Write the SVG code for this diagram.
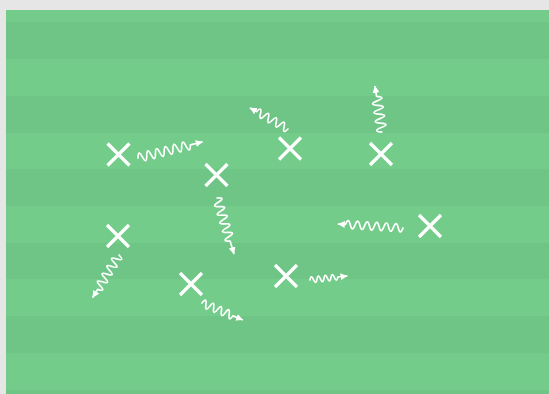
<svg xmlns="http://www.w3.org/2000/svg" width="549" height="394" viewBox="0 0 549 394">
<style>
.light{fill:#74cc8a}
.dark{fill:#6fc585}
.x{stroke:#ffffff;stroke-width:3.3;fill:none}
.w{stroke:#ffffff;stroke-width:1.7;fill:none;stroke-linecap:round;stroke-linejoin:round;marker-end:url(#ah)}
</style>
<defs>
<marker id="ah" viewBox="0 0 10 10" refX="9" refY="5" markerWidth="7" markerHeight="7" markerUnits="userSpaceOnUse" orient="auto">
<path d="M0,0 L10,5 L0,10 z" fill="#ffffff"/>
</marker>
<path id="xm" d="M-11,-11 L11,11 M-11,11 L11,-11"/>
</defs>
<rect width="549" height="394" fill="#e6e6e6"/>
<g id="field">
<rect class="light" x="6" y="10" width="543" height="384"/>
<rect class="dark" x="6" y="22" width="543" height="37"/>
<rect class="dark" x="6" y="96" width="543" height="37"/>
<rect class="dark" x="6" y="169" width="543" height="37"/>
<rect class="dark" x="6" y="243" width="543" height="36"/>
<rect class="dark" x="6" y="316" width="543" height="37"/>
<rect class="dark" x="6" y="390" width="543" height="4"/>
</g>
<g id="player1"><use href="#xm" class="x" transform="translate(118.5,154.5)"/></g>
<g id="player2"><use href="#xm" class="x" transform="translate(216.5,175)"/></g>
<g id="player3"><use href="#xm" class="x" transform="translate(290,148.5)"/></g>
<g id="player4"><use href="#xm" class="x" transform="translate(381,154)"/></g>
<g id="player5"><use href="#xm" class="x" transform="translate(430,226)"/></g>
<g id="player6"><use href="#xm" class="x" transform="translate(118,236)"/></g>
<g id="player7"><use href="#xm" class="x" transform="translate(191,284)"/></g>
<g id="player8"><use href="#xm" class="x" transform="translate(286,276)"/></g>
<g id="connectors">
<path class="w" transform="translate(138,158) rotate(-14)" d="M0,0 q2.25,-9 4.5,0 t4.5,0 t4.5,0 t4.5,0 t4.5,0 t4.5,0 t4.5,0 t4.5,0 t4.5,0 t4.5,0 t4.5,0 t4.5,0 l12,0"/>
<path class="w" transform="translate(288,129) rotate(-151)" d="M0,0 q2.25,-8 4.5,0 t4.5,0 t4.5,0 t4.5,0 t4.5,0 t4.5,0 t4.5,0 t4.5,0 l7,0"/>
<path class="w" transform="translate(382,132) rotate(-98.7)" d="M0,0 q2.25,-10 4.5,0 t4.5,0 t4.5,0 t4.5,0 t4.5,0 t4.5,0 t4.5,0 t4.5,0 l10,0"/>
<path class="w" transform="translate(217,198) rotate(73.1)" d="M0,0 q2.25,-9 4.5,0 t4.5,0 t4.5,0 t4.5,0 t4.5,0 t4.5,0 t4.5,0 t4.5,0 t4.5,0 t4.5,0 l13,0"/>
<path class="w" transform="translate(403,228) rotate(183.5)" d="M0,0 q2.4,-8 4.8,0 t4.8,0 t4.8,0 t4.8,0 t4.8,0 t4.8,0 t4.8,0 t4.8,0 t4.8,0 t4.8,0 t4.8,0 t4.8,0 l7,0"/>
<path class="w" transform="translate(119,255) rotate(121.8)" d="M0,0 q2.25,-9 4.5,0 t4.5,0 t4.5,0 t4.5,0 t4.5,0 t4.5,0 t4.5,0 t4.5,0 t4.5,0 l9,0"/>
<path class="w" transform="translate(202,303) rotate(22.5)" d="M0,0 q2.1,-8 4.2,0 t4.2,0 t4.2,0 t4.2,0 t4.2,0 t4.2,0 t4.2,0 t4.2,0 l10,0"/>
<path class="w" transform="translate(310,280) rotate(-6.2)" d="M0,0 q1.75,-6 3.5,0 t3.5,0 t3.5,0 t3.5,0 t3.5,0 t3.5,0 t3.5,0 t3.5,0 l9,0"/>
</g>
</svg>
